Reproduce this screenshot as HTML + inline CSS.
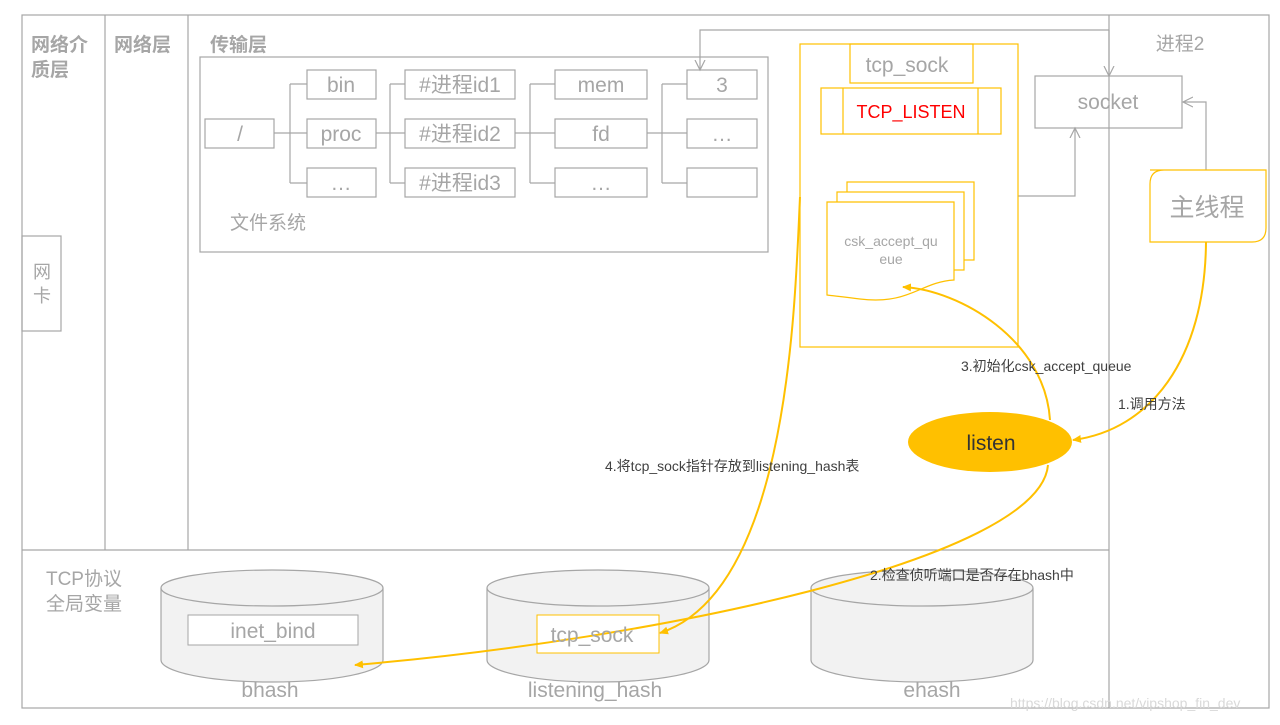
<!DOCTYPE html>
<html><head><meta charset="utf-8"><style>
body{margin:0;background:#fff;width:1280px;height:720px;overflow:hidden}
text{font-family:"Liberation Sans","Noto Sans CJK SC",sans-serif}
</style></head><body>
<svg width="1280" height="720" viewBox="0 0 1280 720" xmlns="http://www.w3.org/2000/svg">
<defs>
<marker id="ay" markerWidth="10" markerHeight="10" refX="8" refY="5" orient="auto" markerUnits="userSpaceOnUse"><path d="M0,1 L9,5 L0,9 Z" fill="#ffc000"/></marker>
<marker id="ag" markerWidth="12" markerHeight="12" refX="10" refY="6" orient="auto" markerUnits="userSpaceOnUse"><path d="M0,1 L10,6 L0,11" fill="none" stroke="#a6a6a6" stroke-width="1.2"/></marker>
</defs>
<g fill="none" stroke="#a6a6a6" stroke-width="1.2">
<rect x="22" y="15" width="1247" height="693"/>
<line x1="105" y1="15" x2="105" y2="550"/>
<line x1="188" y1="15" x2="188" y2="550"/>
<line x1="1109" y1="15" x2="1109" y2="708"/>
<line x1="22" y1="550" x2="1109" y2="550"/>
<rect x="22" y="236" width="39" height="95"/>
<rect x="200" y="57" width="568" height="195"/>
<rect x="205" y="119" width="69" height="29"/>
<rect x="307" y="70" width="69" height="29"/><rect x="307" y="119" width="69" height="29"/><rect x="307" y="168" width="69" height="29"/>
<rect x="405" y="70" width="110" height="29"/><rect x="405" y="119" width="110" height="29"/><rect x="405" y="168" width="110" height="29"/>
<rect x="555" y="70" width="92" height="29"/><rect x="555" y="119" width="92" height="29"/><rect x="555" y="168" width="92" height="29"/>
<rect x="687" y="70" width="70" height="29"/><rect x="687" y="119" width="70" height="29"/><rect x="687" y="168" width="70" height="29"/>
<path d="M274,133 H290 M290,84 V183 M290,84 H307 M290,133 H307 M290,183 H307"/>
<path d="M376,133 H390 M390,84 V183 M390,84 H405 M390,133 H405 M390,183 H405"/>
<path d="M515,133 H530 M530,84 V183 M530,84 H555 M530,133 H555 M530,183 H555"/>
<path d="M647,133 H662 M662,84 V183 M662,84 H687 M662,133 H687 M662,183 H687"/>
<rect x="1035" y="76" width="147" height="52"/>
<path d="M1109,30 H700 V70" marker-end="url(#ag)"/>
<path d="M1109,30 V76" marker-end="url(#ag)"/>
<path d="M1018,196 H1075 V128" marker-end="url(#ag)"/>
<path d="M1206,170 V102 H1183" marker-end="url(#ag)"/>
</g>
<!-- cylinders -->
<g stroke="#a6a6a6" stroke-width="1.2" fill="#f2f2f2">
<path d="M161,588 V660 A111,22 0 0 0 383,660 V588"/><ellipse cx="272" cy="588" rx="111" ry="18"/>
<path d="M487,588 V660 A111,22 0 0 0 709,660 V588"/><ellipse cx="598" cy="588" rx="111" ry="18"/>
<path d="M811,588 V660 A111,22 0 0 0 1033,660 V588"/><ellipse cx="922" cy="588" rx="111" ry="18"/>
</g>
<rect x="188" y="615" width="170" height="30" fill="#fff" stroke="#a6a6a6"/>
<rect x="537" y="615" width="122" height="38" fill="#fff" stroke="#ffc000"/>
<!-- yellow structures -->
<g fill="none" stroke="#ffc000" stroke-width="1.2">
<rect x="800" y="44" width="218" height="303" fill="#fff"/>
<rect x="850" y="44" width="123" height="39"/>
<rect x="821" y="88" width="180" height="46"/>
<line x1="843" y1="88" x2="843" y2="134"/><line x1="978" y1="88" x2="978" y2="134"/>
<rect x="847" y="182" width="127" height="78" fill="#fff"/>
<rect x="837" y="192" width="127" height="78" fill="#fff"/>
<path d="M827,202 H954 V280 C920,282 910,305 860,299 C845,297 835,296 827,295 Z" fill="#fff"/>
<path d="M1150,170 H1266 V228 Q1266,242 1252,242 H1150 V184 Q1150,170 1164,170 Z" fill="#fff"/>
</g>
<ellipse cx="990" cy="442" rx="82" ry="30" fill="#ffc000"/>
<g fill="none" stroke="#ffc000" stroke-width="2">
<path d="M1206,242 C1205,360 1150,430 1073,440" marker-end="url(#ay)"/>
<path d="M1050,420 C1045,340 960,290 903,287" marker-end="url(#ay)"/>
<path d="M1048,465 C1040,560 650,640 355,665" marker-end="url(#ay)"/>
<path d="M800,197 C795,300 790,590 660,633" marker-end="url(#ay)"/>
</g>
<!-- text -->
<g fill="#a6a6a6" font-weight="bold" font-size="19">
<text x="31" y="51">网络介</text><text x="31" y="76">质层</text>
<text x="114" y="51">网络层</text>
<text x="210" y="51">传输层</text>
</g>
<g fill="#a6a6a6" font-size="21" text-anchor="middle">
<text x="42" y="278" font-size="18">网</text><text x="42" y="302" font-size="18">卡</text>
<text x="240" y="141">/</text>
<text x="341" y="92">bin</text><text x="341" y="141">proc</text><text x="341" y="190">…</text>
<text x="460" y="92">#进程id1</text><text x="460" y="141">#进程id2</text><text x="460" y="190">#进程id3</text>
<text x="601" y="92">mem</text><text x="601" y="141">fd</text><text x="601" y="190">…</text>
<text x="722" y="92">3</text><text x="722" y="141">…</text>
<text x="268" y="229" font-size="19">文件系统</text>
<text x="907" y="72">tcp_sock</text>
<text x="1108" y="109">socket</text>
<text x="1180" y="50" font-size="19">进程2</text>
<text x="1207" y="216" font-size="25">主线程</text>
<text x="891" y="246" font-size="14">csk_accept_qu</text>
<text x="891" y="264" font-size="14">eue</text>
<text x="991" y="450" fill="#333">listen</text>
<text x="84" y="585" font-size="19">TCP协议</text>
<text x="84" y="610" font-size="19">全局变量</text>
<text x="273" y="638">inet_bind</text>
<text x="592" y="642">tcp_sock</text>
<text x="270" y="697">bhash</text>
<text x="595" y="697">listening_hash</text>
<text x="932" y="697">ehash</text>
</g>
<text x="911" y="118" fill="#ff0000" font-size="18" text-anchor="middle">TCP_LISTEN</text>
<g fill="#404040" font-size="14">
<text x="961" y="371">3.初始化csk_accept_queue</text>
<text x="1118" y="409">1.调用方法</text>
<text x="605" y="471">4.将tcp_sock指针存放到listening_hash表</text>
<text x="870" y="580">2.检查侦听端口是否存在bhash中</text>
</g>
<text x="1010" y="708" fill="#d9d9d9" font-size="14">https://blog.csdn.net/vipshop_fin_dev</text>
</svg>
</body></html>
